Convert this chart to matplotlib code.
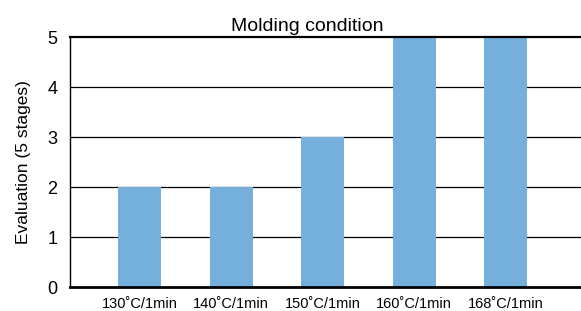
import matplotlib
matplotlib.use("Agg")
import matplotlib.pyplot as plt
import numpy as np

conditions = ["130˚C/1min", "140˚C/1min", "150˚C/1min", "160˚C/1min", "168˚C/1min"]
scores = [2, 2, 3, 5, 5]

plt.rcParams["font.family"] = ["Liberation Sans", "DejaVu Sans"]

fig = plt.figure(figsize=(5.81, 3.11), dpi=100)
ax = fig.add_axes([70 / 581, 24 / 311, 1 - 70 / 581, 250 / 311])

x = np.arange(len(conditions))
ax.bar(x, scores, width=0.47, color="#75AFDB", zorder=2)

ax.set_ylim(0, 5)
ax.set_xlim(-0.759, 4.82)
ax.set_yticks(range(6))
ax.set_xticks(x)
ax.set_xticklabels(conditions, fontsize=10.5)
ax.tick_params(axis="y", length=0, pad=9, labelsize=13)
ax.tick_params(axis="x", length=0, pad=7)

for v in range(1, 5):
    ax.axhline(v, color="black", lw=0.9, zorder=1)
ax.axhline(5, color="black", lw=1.6, zorder=3, clip_on=False)

for s in ["top", "right"]:
    ax.spines[s].set_visible(False)
ax.spines["left"].set_linewidth(1.0)
ax.spines["bottom"].set_linewidth(2.0)
ax.spines["bottom"].set_zorder(4)

ax.set_ylabel("Evaluation (5 stages)", fontsize=12.5, labelpad=12)
ax.set_title("Molding condition", fontsize=14, pad=4, x=0.464)

fig.savefig("out.png", dpi=100)
